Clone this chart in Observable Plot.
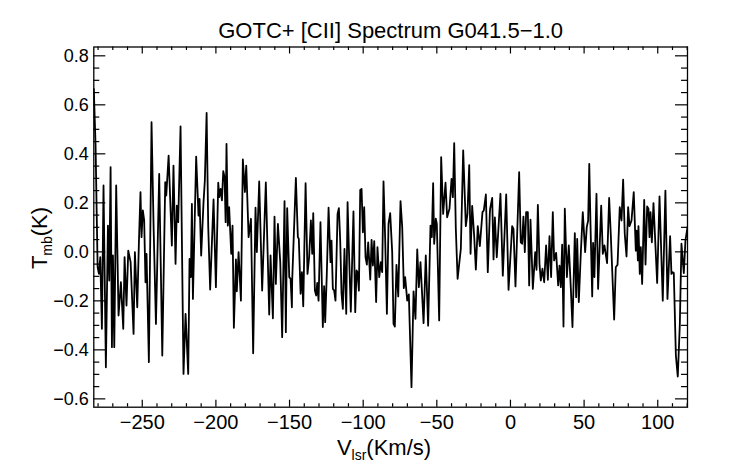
<!DOCTYPE html>
<html><head><meta charset="utf-8">
<script src="https://cdn.jsdelivr.net/npm/d3@7"></script>
<script src="https://cdn.jsdelivr.net/npm/@observablehq/plot@0.6"></script>
<style>body{margin:0;background:#fff}</style>
</head><body><div id="chart"></div>
<script>
// Spectrum: [velocity km/s, T_mb K]
const spec1 = [[-282.9,0.665],[-281.7,0.434],[-280.3,-0.063],[-279.4,-0.09],[-278.5,-0.022],[-277.4,-0.314],[-276.3,0.271],[-274.7,-0.471],[-273.3,0.107],[-272.4,-0.117],[-271.5,0.346],[-270.6,-0.389],[-269.9,-0.015],[-269.0,-0.389],[-267.7,0.271],[-266.1,-0.26],[-264.5,-0.124],[-262.9,-0.314],[-262.0,-0.022],[-260.7,-0.219],[-259.5,0.005],[-257.9,-0.042],[-255.9,-0.335],[-255.0,-0.001],[-253.4,-0.226],[-252.3,0.033],[-251.2,0.244],[-250.5,0.06],[-249.6,0.169],[-248.7,0.128],[-247.8,-0.124],[-247.1,-0.008],[-245.5,-0.45],[-243.7,0.529],[-242.3,0.101],[-240.7,-0.294],[-238.5,0.318],[-236.4,-0.423],[-234.4,0.284],[-233.7,0.23],[-232.1,0.393],[-229.9,0.026],[-228.8,0.352],[-227.4,-0.049],[-226.5,0.189],[-225.6,0.121],[-224.0,0.512],[-222.0,-0.498],[-220.6,-0.253],[-218.8,-0.498],[-217.9,-0.029],[-217.0,-0.103],[-216.3,0.196],[-215.6,-0.192]];
const spec2 = [[-213.4,0.389],[-211.8,0.148],[-211.1,0.216],[-210.0,-0.015],[-208.4,0.203],[-207.5,0.291],[-206.3,0.567],[-205.2,0.101],[-203.9,-0.154],[-201.6,0.214],[-200.0,-0.144],[-198.4,0.282],[-197.7,0.223],[-196.8,0.257],[-195.9,0.21],[-195.0,0.329],[-194.1,0.305],[-193.4,0.121],[-192.8,0.441],[-191.9,0.107],[-191.0,0.182],[-189.6,-0.008],[-188.7,0.107],[-187.8,-0.31],[-186.4,-0.031],[-185.8,-0.161],[-184.6,-0.001],[-183.0,-0.199],[-181.7,0.377],[-180.3,0.244],[-179.4,0.352],[-177.8,0.06],[-176.2,0.135],[-174.7,-0.414],[-173.1,0.18],[-172.2,-0.001],[-170.6,0.287],[-168.6,-0.158],[-166.1,0.283],[-163.8,-0.256],[-162.9,-0.015],[-161.3,-0.271],[-160.2,0.144],[-159.3,-0.131],[-157.9,0.114],[-156.3,-0.042],[-155.0,-0.348],[-153.4,0.207],[-152.5,-0.328],[-151.6,0.178],[-150.2,-0.103],[-149.3,-0.11],[-148.4,-0.226]];
const spec3 = [[-148.2,-0.117],[-145.7,0.302],[-144.35,0.06],[-143.7,0.053],[-142.5,-0.171],[-141.6,-0.083],[-140.7,-0.222],[-139.1,0.28],[-137.8,-0.09],[-136.7,-0.022],[-135.5,0.128],[-134.6,-0.008],[-133.9,0.158],[-132.8,-0.158],[-131.9,-0.178],[-131.2,-0.127],[-130.3,-0.199],[-129.0,0.121],[-127.4,-0.307],[-126.5,-0.14],[-125.8,-0.287],[-124.7,-0.09],[-123.5,0.18],[-122.2,-0.042],[-121.5,0.046],[-120.6,-0.151],[-119.7,-0.158],[-118.8,-0.199],[-117.4,0.155],[-116.5,0.178],[-115.6,0.046],[-114.7,-0.171],[-113.8,-0.233],[-112.7,0.012],[-111.5,-0.253],[-110.6,0.203],[-109.7,0.012],[-108.4,-0.244],[-106.6,0.165],[-105.4,-0.246],[-104.5,-0.076],[-103.85,-0.083],[-102.9,-0.158],[-102.0,0.253],[-101.1,0.257],[-100.2,0.08],[-99.3,0.182],[-98.4,-0.022],[-97.5,-0.052],[-96.6,0.039],[-95.2,-0.113],[-94.3,0.049],[-93.4,-0.056],[-92.5,0.044],[-91.2,-0.205],[-90.3,0.019],[-89.1,-0.103],[-88.0,-0.042],[-87.1,-0.083],[-86.2,0.288],[-85.1,0.06],[-83.9,-0.253],[-82.8,0.114],[-81.67,0.158]];
const spec4 = [[-80.3,-0.001],[-79.4,-0.294],[-78.5,-0.305],[-77.4,-0.053],[-76.2,-0.182],[-74.65,0.207],[-73.5,0.101],[-72.4,-0.148],[-71.5,-0.103],[-70.1,-0.199],[-69.0,-0.174],[-67.2,-0.552],[-65.8,-0.161],[-64.5,-0.273],[-63.3,0.01],[-62.2,-0.144],[-61.1,-0.042],[-59.0,-0.291],[-57.5,-0.015],[-55.9,-0.301],[-54.3,0.107],[-53.4,0.06],[-52.5,0.28],[-51.8,0.033],[-50.7,0.135],[-50.0,0.114],[-48.4,-0.28],[-47.05,0.386],[-45.7,0.155],[-44.1,0.282],[-43.0,0.141],[-41.4,0.176],[-40.0,0.298],[-39.1,0.223],[-38.2,0.444],[-37.1,0.094],[-35.9,-0.11],[-33.7,0.012],[-32.1,0.414],[-30.3,0.105],[-29.2,0.155],[-28.0,0.354],[-27.1,-0.008],[-26.0,0.188],[-24.6,0.06],[-23.5,-0.072],[-22.2,0.105],[-20.8,0.023],[-19.0,0.162],[-18.1,0.169],[-16.7,0.234],[-15.4,-0.083],[-14.0,0.158]];
const spec5 = [[-13.8,0.176],[-12.4,0.22],[-11.5,-0.031],[-10.6,0.141],[-9.3,-0.022],[-6.8,0.237],[-5.2,-0.097],[-2.9,0.234],[-1.3,-0.155],[1.15,0.105],[2.05,0.094],[3.4,-0.141],[5.9,0.325],[7.0,0.039],[7.9,0.033],[8.8,0.144],[9.75,-0.001],[10.65,0.162],[11.8,0.162],[12.7,-0.137],[13.6,0.131],[15.2,-0.151],[16.8,-0.001],[17.7,-0.073],[18.6,0.192],[19.7,-0.049],[20.6,-0.117],[21.7,-0.069],[22.9,-0.124],[24.2,0.026],[25.4,-0.114],[26.5,0.064],[27.6,-0.103],[28.75,0.162],[29.65,-0.035],[31.0,-0.004],[32.4,-0.137],[33.3,-0.056],[34.2,-0.144],[35.1,0.029],[36.0,-0.305],[36.9,0.176],[38.3,-0.103],[39.6,0.026],[41.0,-0.151],[42.1,-0.307],[43.7,0.076],[44.6,-0.185],[45.3,0.053],[46.4,-0.205],[47.8,-0.001],[49.1,0.162],[50.7,-0.001],[51.8,0.101],[52.75,0.128],[53.5,0.359]];
const spec6 = [[54.3,0.121],[55.5,-0.182],[56.1,0.037],[57.0,-0.103],[58.4,0.237],[59.5,-0.151],[61.6,0.189],[62.7,-0.008],[63.8,0.026],[65.6,-0.046],[67.0,0.22],[68.1,0.073],[70.4,-0.276],[71.5,-0.063],[72.7,-0.053],[74.2,0.182],[75.4,0.128],[76.5,0.295],[77.6,0.073],[78.8,-0.019],[79.9,0.182],[80.8,0.105],[82.2,0.128],[83.7,0.244],[85.1,0.005],[85.8,0.087],[86.5,-0.035],[86.9,0.105],[87.8,-0.09],[88.5,0.019],[89.4,-0.131],[90.8,0.212],[91.7,-0.052],[92.8,0.185],[93.7,0.176],[94.4,0.06],[95.1,0.162],[96.0,0.039],[97.1,0.199],[99.6,-0.127],[101.2,0.226],[103.4,-0.199],[105.2,0.25],[106.6,-0.192],[108.4,0.064],[109.3,-0.09],[110.2,-0.083],[110.9,-0.086],[112.3,-0.423],[113.6,-0.509],[115.0,-0.294],[116.1,0.033],[117.7,-0.087],[118.8,0.046],[120.2,0.101]];

const xMajor = [-250,-200,-150,-100,-50,0,50,100];
const xMinor = [-280,-270,-260,-240,-230,-220,-210,-190,-180,-170,-160,-140,-130,-120,-110,-90,-80,-70,-60,-40,-30,-20,-10,10,20,30,40,60,70,80,90,110,120];
const yMajor = [-0.6,-0.4,-0.2,0.0,0.2,0.4,0.6,0.8];
const yMinor = [-0.55,-0.5,-0.45,-0.35,-0.3,-0.25,-0.15,-0.1,-0.05,0.05,0.1,0.15,0.25,0.3,0.35,0.45,0.5,0.55,0.65,0.7,0.75];
const xDomain = [-282.9, 120.2];
const yDomain = [-0.634, 0.836];
const titleText = "GOTC+ [CII] Spectrum G041.5\u22121.0";

const W = 742, H = 464, mL = 93.3, mR = 55, mT = 46.5, mB = 57.3;
const ph = H - mT - mB, pw = W - mL - mR;
const data = [...spec1, ...spec2, ...spec3, ...spec4, ...spec5, ...spec6].map(([v, t]) => ({v, t}));
const font = "'Liberation Sans', Arial, Helvetica, sans-serif";
const tk = {stroke: "black", strokeWidth: 1.2};

const plot = Plot.plot({
  width: W, height: H,
  marginLeft: mL, marginRight: mR, marginTop: mT, marginBottom: mB,
  style: {fontFamily: font, background: "white", color: "black"},
  x: {domain: xDomain},
  y: {domain: yDomain},
  marks: [
    Plot.line(data, {x: "v", y: "t", stroke: "black", strokeWidth: 1.8, clip: true}),
    Plot.tickX(xMajor, {x: d => d, insetTop: ph - 7, ...tk}),
    Plot.tickX(xMajor, {x: d => d, insetBottom: ph - 7, ...tk}),
    Plot.tickX(xMinor, {x: d => d, insetTop: ph - 3.5, ...tk}),
    Plot.tickX(xMinor, {x: d => d, insetBottom: ph - 3.5, ...tk}),
    Plot.tickY(yMajor, {y: d => d, insetRight: pw - 12, ...tk}),
    Plot.tickY(yMajor, {y: d => d, insetLeft: pw - 12, ...tk}),
    Plot.tickY(yMinor, {y: d => d, insetRight: pw - 6, ...tk}),
    Plot.tickY(yMinor, {y: d => d, insetLeft: pw - 6, ...tk}),
    Plot.frame({stroke: "black", strokeWidth: 1.3}),
    Plot.axisX({ticks: xMajor, tickSize: 0, tickPadding: 8, fontSize: 20, label: null}),
    Plot.axisY({ticks: yMajor, tickSize: 0, tickPadding: 5, fontSize: 18, tickFormat: d3.format(".1f"), label: null}),
    Plot.text([titleText], {text: d => d, frameAnchor: "top", lineAnchor: "middle", dy: -16.5, fontSize: 22, fill: "black"})
  ]
});

const svg = d3.select(plot);
const yl = svg.append("text")
  .attr("transform", "translate(47,238) rotate(-90)")
  .attr("text-anchor", "middle").attr("font-size", 22).attr("fill", "black");
yl.append("tspan").text("T");
yl.append("tspan").attr("font-size", 14).attr("dy", 5).text("mb");
yl.append("tspan").attr("dy", -5).text("(K)");

const xl = svg.append("text")
  .attr("transform", "translate(384,455)")
  .attr("text-anchor", "middle").attr("font-size", 22).attr("fill", "black");
xl.append("tspan").text("V");
xl.append("tspan").attr("font-size", 14).attr("dy", 5).text("lsr");
xl.append("tspan").attr("dy", -5).text("(Km/s)");

document.getElementById("chart").appendChild(plot);
</script>
</body></html>
